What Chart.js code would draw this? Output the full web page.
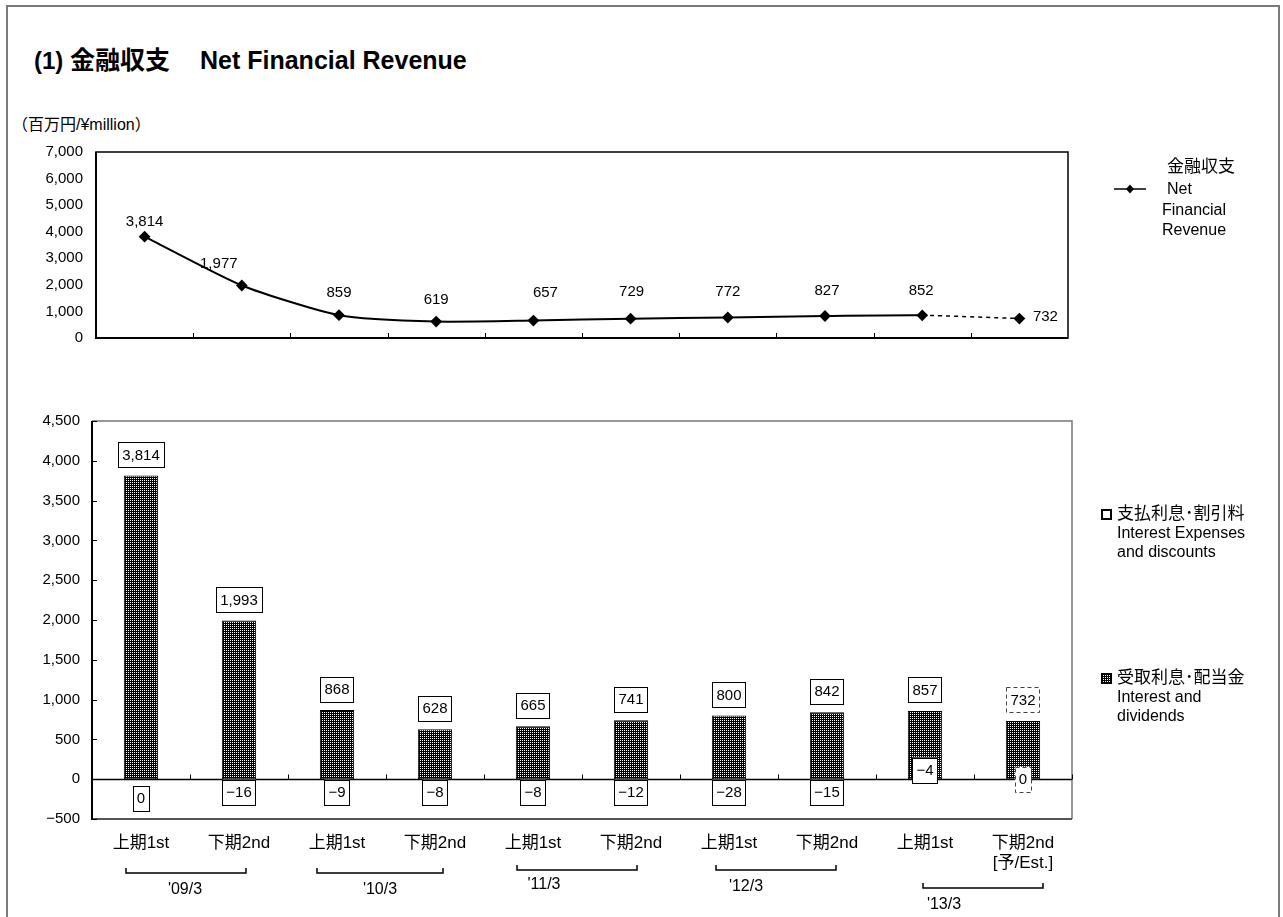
<!DOCTYPE html>
<html lang="ja">
<head>
<meta charset="utf-8">
<title>金融収支 Net Financial Revenue</title>
<script src="https://cdn.jsdelivr.net/npm/chart.js@4/dist/chart.umd.min.js"></script>
<style>
  body { margin: 0; background: #fff; }
  .page {
    position: relative; width: 1283px; height: 917px; overflow: hidden;
    font-family: "Liberation Sans", Arial, "Noto Sans CJK JP", sans-serif; color: #000;
  }
  .frame { position: absolute; left: 6px; top: 5px; width: 1274px; height: 1000px; border: 2px solid #7a7a7a; box-sizing: border-box; }
  .title { position: absolute; top: 44px; font-weight: bold; white-space: pre; line-height: 32px; }
  .unit { position: absolute; left: 12px; top: 111px; font-size: 16px; }
  .txt { position: absolute; font-size: 16px; line-height: 19px; white-space: nowrap; }
  .cjk { font-size: 17px; }
  canvas { position: absolute; left: 0; }
</style>
</head>
<body>
<div class="page">
  <div class="frame"></div>
  <div class="title" style="left:34px;font-size:24px">(1) <span style="font-size:25px">金融収支</span></div>
  <div class="title" style="left:200px;font-size:25px">Net Financial Revenue</div>
  <div class="unit">（百万円/¥million）</div>

  <canvas id="net-chart" width="1283" height="230" style="top:130px"></canvas>
  <canvas id="bar-chart" width="1283" height="517" style="top:400px"></canvas>

  <canvas id="key-line" width="36" height="12" style="left:1112px;top:183px"></canvas>
  <div class="txt cjk" style="left:1167px;top:157px">金融収支</div>
  <div class="txt" style="left:1167px;top:179px">Net</div>
  <div class="txt" style="left:1162px;top:200px">Financial</div>
  <div class="txt" style="left:1162px;top:220px">Revenue</div>

  <canvas id="key-exp" width="11" height="11" style="left:1101px;top:509px"></canvas>
  <div class="txt cjk" style="left:1117px;top:504px">支払利息･割引料</div>
  <div class="txt" style="left:1117px;top:523px">Interest Expenses</div>
  <div class="txt" style="left:1117px;top:542px">and discounts</div>

  <canvas id="key-inc" width="11" height="11" style="left:1101px;top:673px"></canvas>
  <div class="txt cjk" style="left:1117px;top:668px">受取利息･配当金</div>
  <div class="txt" style="left:1117px;top:687px">Interest and</div>
  <div class="txt" style="left:1117px;top:706px">dividends</div>
</div>

<script>
const periods = ["上期1st", "下期2nd", "上期1st", "下期2nd", "上期1st", "下期2nd",
  "上期1st", "下期2nd", "上期1st", ["下期2nd", "[予/Est.]"]];
const fiscalYears = ["'09/3", "'10/3", "'11/3", "'12/3", "'13/3"];
const netRevenue = [3814, 1977, 859, 619, 657, 729, 772, 827, 852, 732];
const interestIncome = [3814, 1993, 868, 628, 665, 741, 800, 842, 857, 732];
const interestExpense = [0, -16, -9, -8, -8, -12, -28, -15, -4, 0];
const estimateFrom = 9;

// hand placement of labels
const netLabelShift = [[0, -15], [-23, -22], [0, -22], [0, -22], [12, -28],
  [1, -27], [0, -26], [2, -25], [-1, -25], [26, -2]];
const expenseLabelDy = [19, 13, 13, 13, 13, 13, 13, 13, -9, 0];
const yearBrackets = [
  { x0: -15, w: 120, y: 873, dx: -1, ly: 890 },
  { x0: -20, w: 126, y: 873, dx: 0, ly: 890 },
  { x0: -16, w: 120, y: 870, dx: -33, ly: 885 },
  { x0: -13, w: 120, y: 870, dx: -30, ly: 887 },
  { x0: -2, w: 120, y: 888, dx: -39, ly: 905 },
];

const FONT = "'Liberation Sans', Arial, 'Noto Sans CJK JP', sans-serif";
const fmt = (v) => v.toLocaleString("en-US").replace("-", "\u2212");

Chart.defaults.font.family = FONT;
Chart.defaults.color = "#000";
Chart.defaults.animation = false;

const dots = (ctx) => {
  const tile = document.createElement("canvas");
  tile.width = 2;
  tile.height = 2;
  const g = tile.getContext("2d");
  g.fillStyle = "#000";
  g.fillRect(0, 0, 2, 2);
  g.fillStyle = "#fff";
  g.fillRect(0, 0, 1, 1);
  return ctx.createPattern(tile, "repeat");
};

const drawBox = (ctx, text, x, y, dashed) => {
  const w = ctx.measureText(text).width + 8;
  const h = 25;
  ctx.save();
  ctx.fillStyle = "#fff";
  ctx.fillRect(x - w / 2, y - h / 2, w, h);
  ctx.strokeStyle = dashed ? "#444" : "#000";
  ctx.lineWidth = 1;
  if (dashed) ctx.setLineDash([4, 3]);
  ctx.strokeRect(Math.round(x - w / 2) + 0.5, Math.round(y - h / 2) + 0.5, Math.round(w), h);
  ctx.restore();
  ctx.fillText(text, x, y + 1);
};

// ---- line chart ----
const lineDecor = {
  id: "lineDecor",
  beforeDatasetsDraw(chart) {
    const { ctx, chartArea: a } = chart;
    const step = (a.right - a.left) / periods.length;
    ctx.save();
    ctx.strokeStyle = "#000";
    ctx.lineWidth = 1.5;
    ctx.strokeRect(a.left, a.top, a.right - a.left, a.bottom - a.top);
    ctx.lineWidth = 2;
    ctx.beginPath();
    ctx.moveTo(a.left, a.top);
    ctx.lineTo(a.left, a.bottom);
    ctx.lineTo(a.right, a.bottom);
    ctx.stroke();
    ctx.lineWidth = 1;
    ctx.beginPath();
    for (let k = 1; k < periods.length; k++) {
      const x = Math.round(a.left + k * step) + 0.5;
      ctx.moveTo(x, a.bottom);
      ctx.lineTo(x, a.bottom - 5);
    }
    ctx.stroke();
    ctx.restore();
  },
  afterDatasetsDraw(chart) {
    const { ctx } = chart;
    ctx.save();
    ctx.font = "15px " + FONT;
    ctx.textAlign = "center";
    ctx.textBaseline = "middle";
    chart.getDatasetMeta(0).data.forEach((pt, i) => {
      const [dx, dy] = netLabelShift[i];
      ctx.fillText(fmt(netRevenue[i]), pt.x + dx, pt.y + dy);
    });
    ctx.restore();
  },
};

new Chart(document.getElementById("net-chart"), {
  type: "line",
  data: {
    labels: periods,
    datasets: [
      {
        label: "金融収支 Net Financial Revenue",
        data: netRevenue,
        borderColor: "#000",
        backgroundColor: "#000",
        borderWidth: 2,
        tension: 0.2,
        pointStyle: "rectRot",
        pointRadius: 4.5,
        segment: {
          borderDash: (c) => (c.p1DataIndex >= estimateFrom ? [4, 4] : undefined),
          borderWidth: (c) => (c.p1DataIndex >= estimateFrom ? 1.5 : undefined),
        },
      },
    ],
  },
  options: {
    responsive: false,
    layout: { padding: { top: 17, right: 215, bottom: 21, left: 0 } },
    plugins: { legend: { display: false }, tooltip: { enabled: false } },
    scales: {
      x: { display: false, offset: true },
      y: {
        min: 0,
        max: 7000,
        afterFit: (s) => { s.width = 96; },
        grid: { display: false, drawTicks: false },
        border: { display: false },
        ticks: { stepSize: 1000, padding: 13, font: { size: 15 }, callback: (v) => fmt(v) },
      },
    },
  },
  plugins: [lineDecor],
});

// ---- bar chart ----
const barDecor = {
  id: "barDecor",
  beforeDatasetsDraw(chart) {
    const { ctx, chartArea: a, scales: { x, y } } = chart;
    const zero = Math.round(y.getPixelForValue(0)) + 0.5;
    const step = (a.right - a.left) / periods.length;
    ctx.save();
    ctx.strokeStyle = "#777";
    ctx.lineWidth = 1.5;
    ctx.beginPath();
    ctx.moveTo(a.left, a.top);
    ctx.lineTo(a.right, a.top);
    ctx.lineTo(a.right, a.bottom);
    ctx.stroke();
    ctx.lineWidth = 2;
    ctx.strokeStyle = "#555";
    ctx.beginPath();
    ctx.moveTo(a.left, a.bottom);
    ctx.lineTo(a.right, a.bottom);
    ctx.stroke();
    ctx.strokeStyle = "#000";
    ctx.beginPath();
    ctx.moveTo(a.left, a.top);
    ctx.lineTo(a.left, a.bottom + 1);
    ctx.stroke();
    ctx.lineWidth = 1.5;
    ctx.beginPath();
    ctx.moveTo(a.left, zero);
    ctx.lineTo(a.right, zero);
    ctx.stroke();
    ctx.lineWidth = 1;
    ctx.beginPath();
    y.ticks.forEach((t) => {
      const py = Math.round(y.getPixelForValue(t.value)) + 0.5;
      ctx.moveTo(a.left, py);
      ctx.lineTo(a.left + 5, py);
    });
    for (let k = 1; k <= periods.length; k++) {
      const px = Math.round(a.left + k * step) + 0.5;
      ctx.moveTo(px, zero);
      ctx.lineTo(px, zero - 5);
    }
    ctx.stroke();

    // fiscal-year brackets under the period labels
    ctx.lineWidth = 1.5;
    ctx.font = "16px " + FONT;
    ctx.textAlign = "center";
    ctx.textBaseline = "middle";
    yearBrackets.forEach((b, g) => {
      const left = x.getPixelForValue(g * 2) + b.x0;
      const top = b.y - chart.canvas.offsetTop;
      ctx.beginPath();
      ctx.moveTo(left, top - 5);
      ctx.lineTo(left, top);
      ctx.lineTo(left + b.w, top);
      ctx.lineTo(left + b.w, top - 5);
      ctx.stroke();
      ctx.fillText(fiscalYears[g], left + b.w / 2 + b.dx, b.ly - chart.canvas.offsetTop);
    });
    ctx.restore();
  },
  afterDatasetsDraw(chart) {
    const { ctx, scales: { y } } = chart;
    const zero = y.getPixelForValue(0);
    ctx.save();
    ctx.font = "15px " + FONT;
    ctx.textAlign = "center";
    ctx.textBaseline = "middle";
    chart.getDatasetMeta(1).data.forEach((bar, i) => {
      drawBox(ctx, fmt(interestIncome[i]), bar.x, bar.y - 21, i >= estimateFrom);
    });
    chart.getDatasetMeta(0).data.forEach((bar, i) => {
      drawBox(ctx, fmt(interestExpense[i]), bar.x, zero + expenseLabelDy[i], i >= estimateFrom);
    });
    ctx.restore();
  },
};

const barCanvas = document.getElementById("bar-chart");
const barPattern = dots(barCanvas.getContext("2d"));

new Chart(barCanvas, {
  type: "bar",
  data: {
    labels: periods,
    datasets: [
      {
        label: "支払利息･割引料 Interest Expenses and discounts",
        data: interestExpense,
        backgroundColor: "#fff",
        borderColor: "#000",
        borderWidth: 1,
        borderSkipped: false,
      },
      {
        label: "受取利息･配当金 Interest and dividends",
        data: interestIncome,
        backgroundColor: barPattern,
        borderColor: "#000",
        borderWidth: 1,
        borderSkipped: false,
      },
    ],
  },
  options: {
    responsive: false,
    barPercentage: 0.35,
    categoryPercentage: 1,
    layout: { padding: { top: 19, right: 211, bottom: 0, left: 0 } },
    plugins: { legend: { display: false }, tooltip: { enabled: false } },
    scales: {
      x: {
        stacked: true,
        afterFit: (s) => { s.height = 98; },
        grid: { display: false, drawTicks: false },
        border: { display: false },
        ticks: { autoSkip: false, maxRotation: 0, padding: 14, font: { size: 17 } },
      },
      y: {
        stacked: true,
        min: -500,
        max: 4500,
        afterFit: (s) => { s.width = 92; },
        grid: { display: false, drawTicks: false },
        border: { display: false },
        ticks: { stepSize: 500, padding: 12, font: { size: 15 }, callback: (v) => fmt(v) },
      },
    },
  },
  plugins: [barDecor],
});

// ---- legend keys ----
(function () {
  const g = document.getElementById("key-line").getContext("2d");
  g.strokeStyle = "#000";
  g.lineWidth = 1.5;
  g.beginPath();
  g.moveTo(2, 6);
  g.lineTo(34, 6);
  g.stroke();
  g.beginPath();
  g.moveTo(18, 1.5);
  g.lineTo(22, 6);
  g.lineTo(18, 10.5);
  g.lineTo(14, 6);
  g.closePath();
  g.fill();

  const e = document.getElementById("key-exp").getContext("2d");
  e.strokeStyle = "#000";
  e.lineWidth = 2;
  e.strokeRect(1, 1, 9, 9);

  const c = document.getElementById("key-inc").getContext("2d");
  c.fillStyle = dots(c);
  c.fillRect(0, 0, 11, 11);
  c.strokeStyle = "#000";
  c.strokeRect(0.5, 0.5, 10, 10);
})();
</script>
</body>
</html>
